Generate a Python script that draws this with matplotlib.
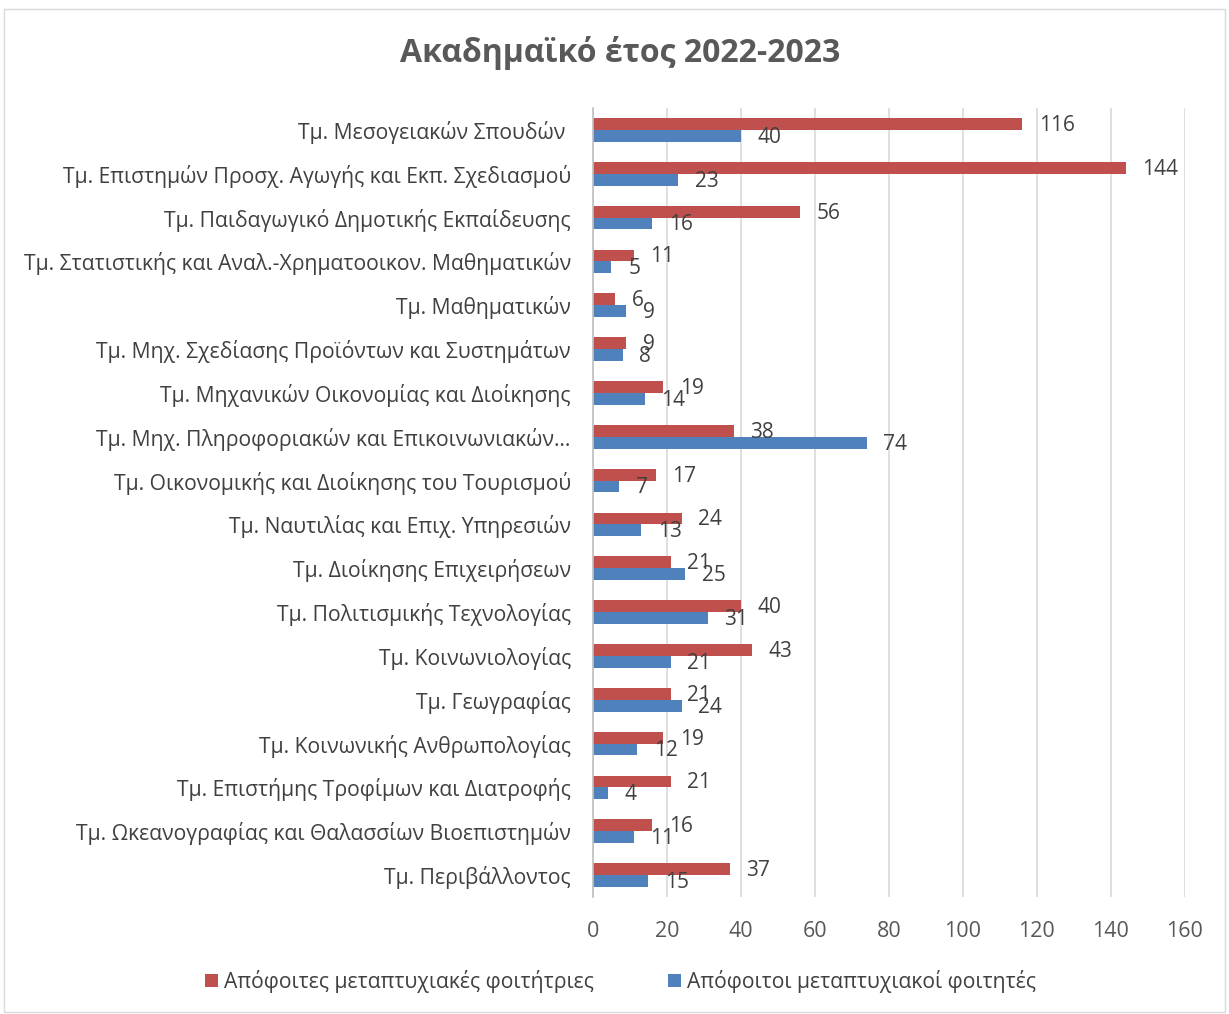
import matplotlib
matplotlib.use("Agg")
import matplotlib.pyplot as plt
import numpy as np
from matplotlib.patches import Rectangle

plt.rcParams['font.family'] = ['Open Sans', 'DejaVu Sans']

departments = [
    "Τμ. Μεσογειακών Σπουδών ",
    "Τμ. Επιστημών Προσχ. Αγωγής και Εκπ. Σχεδιασμού",
    "Τμ. Παιδαγωγικό Δημοτικής Εκπαίδευσης",
    "Τμ. Στατιστικής και Αναλ.-Χρηματοοικον. Μαθηματικών",
    "Τμ. Μαθηματικών",
    "Τμ. Μηχ. Σχεδίασης Προϊόντων και Συστημάτων",
    "Τμ. Μηχανικών Οικονομίας και Διοίκησης",
    "Τμ. Μηχ. Πληροφοριακών και Επικοινωνιακών…",
    "Τμ. Οικονομικής και Διοίκησης του Τουρισμού",
    "Τμ. Ναυτιλίας και Επιχ. Υπηρεσιών",
    "Τμ. Διοίκησης Επιχειρήσεων",
    "Τμ. Πολιτισμικής Τεχνολογίας",
    "Τμ. Κοινωνιολογίας",
    "Τμ. Γεωγραφίας",
    "Τμ. Κοινωνικής Ανθρωπολογίας",
    "Τμ. Επιστήμης Τροφίμων και Διατροφής",
    "Τμ. Ωκεανογραφίας και Θαλασσίων Βιοεπιστημών",
    "Τμ. Περιβάλλοντος",
]
women = [116, 144, 56, 11, 6, 9, 19, 38, 17, 24, 21, 40, 43, 21, 19, 21, 16, 37]
men = [40, 23, 16, 5, 9, 8, 14, 74, 7, 13, 25, 31, 21, 24, 12, 4, 11, 15]
xticks = [0, 20, 40, 60, 80, 100, 120, 140, 160]

red = "#C0504D"
blue = "#4F81BD"
textc = "#404040"

fig = plt.figure(figsize=(12.29, 10.14), dpi=100)
ax = fig.add_axes([0.4825, 0.1154, 0.4815, 0.7781])

y = np.arange(len(departments))
h = 0.27
ax.barh(y - h/2, women, height=h, color=red, label="Απόφοιτες μεταπτυχιακές φοιτήτριες", zorder=3)
ax.barh(y + h/2, men, height=h, color=blue, label="Απόφοιτοι μεταπτυχιακοί φοιτητές", zorder=3)

for i in range(len(departments)):
    ax.annotate(str(women[i]), (women[i], y[i] - h/2), xytext=(12, -1), textcoords="offset points",
                va="center", ha="left", fontsize=15, color=textc)
    ax.annotate(str(men[i]), (men[i], y[i] + h/2), xytext=(12, -1), textcoords="offset points",
                va="center", ha="left", fontsize=15, color=textc)

ax.set_ylim(len(departments) - 0.5, -0.5)
ax.set_xlim(0, 160)
ax.set_xticks(xticks)
ax.set_yticks(y)
ax.set_yticklabels(departments, fontsize=15.2, color=textc)
ax.tick_params(axis="x", labelsize=15.5, colors="#595959", length=0, pad=17)
ax.tick_params(axis="y", length=0, pad=16)
ax.grid(axis="x", color="#D9D9D9", linewidth=1.2, zorder=0)
for s in ["top", "right", "bottom"]:
    ax.spines[s].set_visible(False)
ax.spines["left"].set_color("#BFBFBF")
ax.spines["left"].set_linewidth(1.2)
ax.spines["left"].set_zorder(4)

fig.text(0.505, 0.948, "Ακαδημαϊκό έτος 2022-2023", ha="center", va="center",
         fontsize=23, fontweight="bold", color="#595959")

leg = fig.legend(loc="center", bbox_to_anchor=(0.505, 0.032), ncol=2, frameon=False,
                 fontsize=15.2, handlelength=0.6, handleheight=0.6, handletextpad=0.3,
                 columnspacing=3.5, labelcolor=textc)

fig.patches.append(Rectangle((0.003, 0.002), 0.994, 0.989, transform=fig.transFigure,
                             fill=False, edgecolor="#D9D9D9", linewidth=1))

fig.savefig("out.png", dpi=100, facecolor="white")
